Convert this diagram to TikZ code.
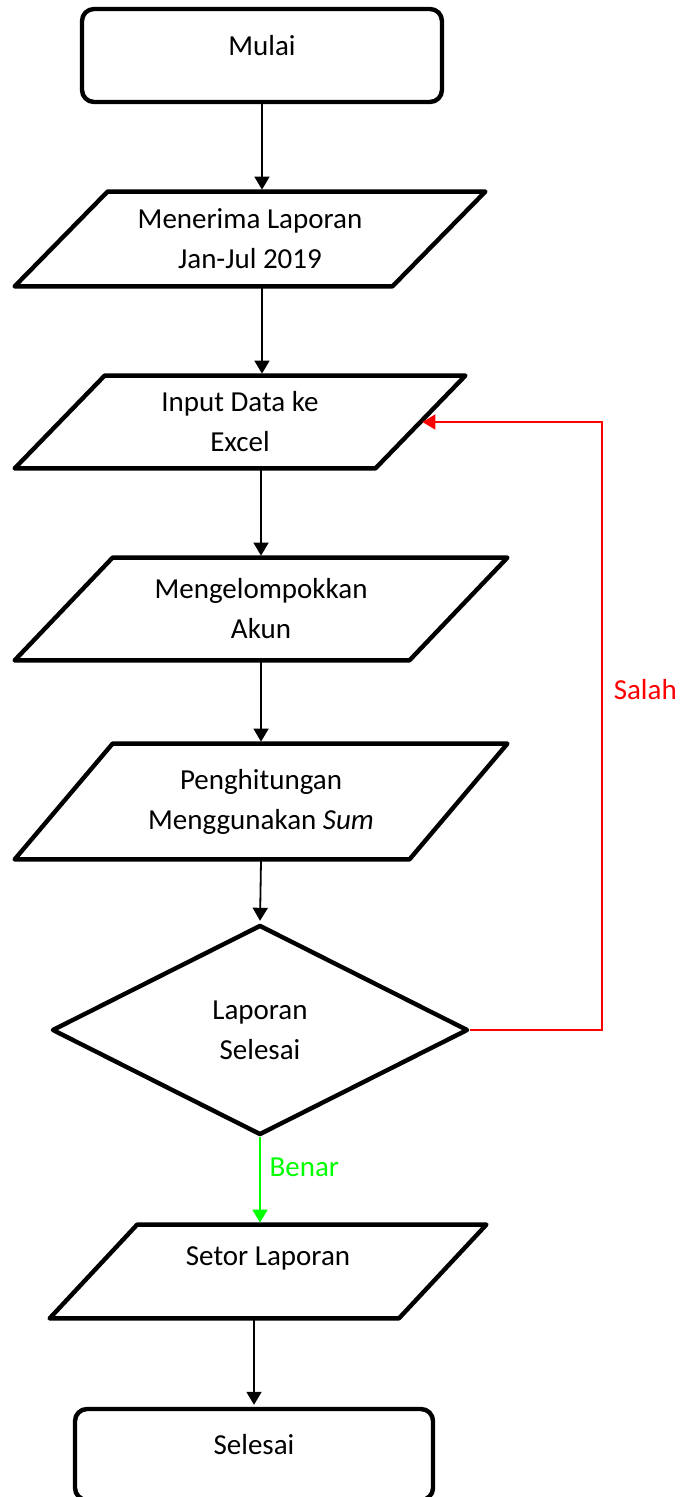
\documentclass[tikz,border=0pt]{standalone}
\usepackage{fontspec}
\setmainfont{Carlito}
\usetikzlibrary{shapes.geometric,arrows.meta}

\begin{document}
\begin{tikzpicture}[
        font = \fontsize{14.5}{20}\selectfont,
        outline/.style = {line width = 2.2pt,
            line join = round,
        },
        terminal/.style = {draw, outline,
            rounded corners = 6pt,
            text height = 9pt,
            text depth = 9pt,
        },
        data/.style = {align = center,
            append after command = {\pgfextra{
                \draw[outline]
                    ([xshift = #1]\tikzlastnode.north west) -- ([xshift = #1]\tikzlastnode.north east)
                    -- ([xshift = -#1]\tikzlastnode.south east) -- ([xshift = -#1]\tikzlastnode.south west)
                    -- cycle;
            }},
        },
        decision/.style = {draw, outline, diamond,
            align = center,
        },
        arrow/.style = {line width = 0.9pt,
            shorten > = 1pt,
            -{Triangle[width = 7.5pt, length = 6.5pt]},
        }]

        \useasboundingbox (0,0) rectangle (12.003,-26.307);

        % Mulai
        \node[terminal, minimum width = 6.326cm, minimum height = 1.634cm] (mulai) at (4.604,-0.975) {Mulai};

        % Input laporan
        \node[data = 0.817cm, minimum width = 6.625cm, minimum height = 1.652cm] (menerima) at (4.393,-4.200) {Menerima Laporan\\Jan-Jul 2019};
        \node[data = 0.791cm, minimum width = 6.326cm, minimum height = 1.617cm] (input) at (4.218,-7.416) {Input Data ke\\Excel};
        \node[data = 0.861cm, minimum width = 6.924cm, minimum height = 1.792cm] (kelompok) at (4.587,-10.702) {Mengelompokkan\\Akun};
        \node[data = 0.861cm, minimum width = 6.924cm, minimum height = 2.021cm] (hitung) at (4.587,-14.085) {Penghitungan\\Menggunakan \textit{Sum}};

        % Cek laporan
        \node[decision, minimum width = 7.310cm, minimum height = 3.690cm] (cek) at (4.569,-18.100) {Laporan\\Selesai};

        % Output
        \node[data = 0.769cm, minimum width = 6.124cm, minimum height = 1.634cm, text height = 6pt, text depth = 12pt] (setor) at (4.710,-22.344) {Setor Laporan};

        % Selesai
        \node[terminal, minimum width = 6.291cm, minimum height = 1.599cm] (selesai) at (4.464,-25.560) {Selesai};

        % Arrows
        \draw[arrow] (mulai.south) -- (mulai.south |- menerima.north);
        \draw[arrow] (menerima.south -| mulai.south) -- (input.north -| mulai.south);
        \draw[arrow] (input.south -| kelompok.north) -- (kelompok.north);
        \draw[arrow] (kelompok.south) -- (kelompok.south |- hitung.north);
        \draw[arrow] (hitung.south) -- (cek.north);
        \draw[arrow, green] (cek.south) -- (cek.south |- setor.north) node[pos = 0.35, right = 1pt] {Benar};
        \draw[arrow, red] (cek.east) -- ++(2.32,0) |- (input.east) node[pos = 0.28, right = 2pt] {Salah};
        \draw[arrow] (setor.south -| selesai.north) -- (selesai.north);

\end{tikzpicture}
\end{document}
